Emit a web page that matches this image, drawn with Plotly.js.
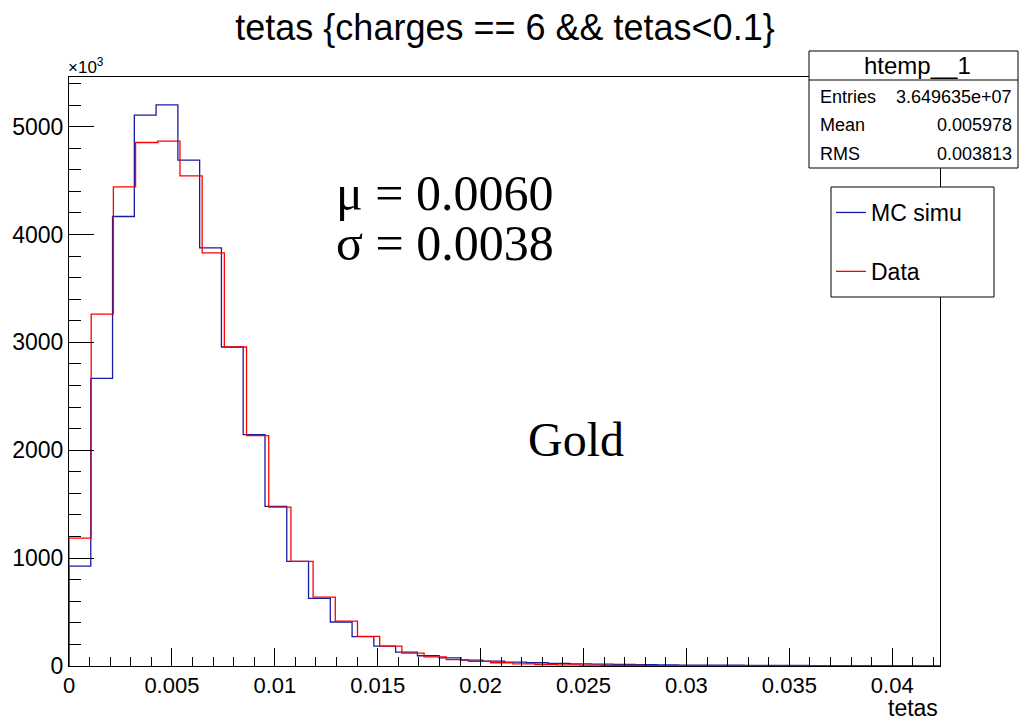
<!DOCTYPE html>
<html><head><meta charset="utf-8">
<script src="https://cdn.plot.ly/plotly-3.0.1.min.js"></script>
<style>html,body{margin:0;padding:0;background:#fff}#chart{width:1020px;height:720px}</style>
</head><body><div id="chart"></div>
<script>
// Entries per bin, in units of 10^3
const mcCounts = [926, 2667, 4167, 5107, 5202, 4689, 3876, 2957, 2145, 1480,
  969, 626, 408, 272, 184, 128, 95, 76, 54, 45,
  35, 30, 25, 20, 17, 14, 12, 10, 9, 8,
  7, 6, 5, 5, 4, 4, 3, 3, 3, 2];
const dataCounts = [1186, 3261, 4442, 4853, 4866, 4544, 3829, 2957, 2135, 1473,
  969, 638, 416, 274, 184, 119, 85, 60, 42, 30,
  20, 14, 10, 8, 6, 5, 4, 3, 3, 2,
  2, 2, 1, 1, 1, 1, 1, 1, 0, 0];
const mcRange = [0, 0.04232];
const dataRange = [0, 0.04313];
const seriesNames = ['MC simu', 'Data'];
const statsTitle = 'htemp__1';
const statsLabels = ['Entries', 'Mean', 'RMS'];
const statsValues = ['3.649635e+07', '0.005978', '0.003813'];
const fitLabels = ['\u03bc = 0.0060', '\u03c3 = 0.0038'];
const sampleLabel = 'Gold';
const titleText = 'tetas {charges == 6 && tetas<0.1}';
const xTitle = 'tetas';
const yMultiplier = '\u00d710<sup>3</sup>';

function stepTrace(counts, range) {
  const w = (range[1] - range[0]) / counts.length;
  const x = [range[0]], y = [0];
  counts.forEach((c, i) => { x.push(range[0] + i * w); y.push(c); });
  x.push(range[1]); y.push(0);
  return {x, y};
}

const W = 1020, H = 720, L = 69, R = 80, T = 77, B = 54;
const pw = W - L - R, ph = H - T - B;
const px = v => (v - L) / pw, py = v => (H - B - v) / ph;
const SANS = 'Liberation Sans, Arial, sans-serif';
const SERIF = 'Liberation Serif, Times New Roman, serif';

const mc = stepTrace(mcCounts, mcRange);
const da = stepTrace(dataCounts, dataRange);

const traces = [
  {type: 'scatter', mode: 'lines', x: mc.x, y: mc.y, name: seriesNames[0], legendgroup: 'a',
   line: {shape: 'hv', color: '#1a1aa8', width: 1.3}, hoverinfo: 'skip'},
  {type: 'scatter', mode: 'lines', x: da.x, y: da.y, name: seriesNames[1], legendgroup: 'b',
   line: {shape: 'hv', color: '#ff0000', width: 1.3}, hoverinfo: 'skip'}
];

const annotations = [
  {text: yMultiplier, xref: 'paper', yref: 'paper', x: px(66), y: py(66), xanchor: 'left', yanchor: 'middle',
   showarrow: false, font: {family: SANS, size: 17, color: '#000'}},
  {text: xTitle, xref: 'paper', yref: 'paper', x: px(940), y: py(708), xanchor: 'right', yanchor: 'middle',
   showarrow: false, font: {family: SANS, size: 23, color: '#000'}},
  {text: fitLabels[0], xref: 'paper', yref: 'paper', x: px(334), y: py(193), xanchor: 'left', yanchor: 'middle',
   showarrow: false, font: {family: SERIF, size: 50, color: '#000'}},
  {text: fitLabels[1], xref: 'paper', yref: 'paper', x: px(334), y: py(243), xanchor: 'left', yanchor: 'middle',
   showarrow: false, font: {family: SERIF, size: 50, color: '#000'}},
  {text: sampleLabel, xref: 'paper', yref: 'paper', x: px(576), y: py(440), xanchor: 'center', yanchor: 'middle',
   showarrow: false, font: {family: SERIF, size: 48, color: '#000'}},
  {text: statsTitle, xref: 'paper', yref: 'paper', x: px(917), y: py(65), xanchor: 'center', yanchor: 'middle',
   showarrow: false, font: {family: SANS, size: 24, color: '#000'}}
];
const rowY = [97, 125, 154];
statsLabels.forEach((lab, i) => {
  annotations.push({text: lab, xref: 'paper', yref: 'paper', x: px(818), y: py(rowY[i]), xanchor: 'left', yanchor: 'middle',
    showarrow: false, font: {family: SANS, size: 18, color: '#000'}});
  annotations.push({text: statsValues[i], xref: 'paper', yref: 'paper', x: px(1014), y: py(rowY[i]), xanchor: 'right', yanchor: 'middle',
    showarrow: false, font: {family: SANS, size: 18, color: '#000'}});
});

const shapes = [
  {type: 'rect', xref: 'paper', yref: 'paper', x0: px(809), x1: px(1018), y0: py(168), y1: py(51),
   fillcolor: '#fff', line: {color: '#000', width: 1}, layer: 'above'},
  {type: 'line', xref: 'paper', yref: 'paper', x0: px(809), x1: px(1018), y0: py(80), y1: py(80),
   line: {color: '#000', width: 1}, layer: 'above'},
  {type: 'rect', xref: 'paper', yref: 'paper', x0: px(831), x1: px(994), y0: py(297), y1: py(187),
   fillcolor: '#fff', line: {color: '#000', width: 1}, layer: 'above'}
];

const layout = {
  width: W, height: H,
  margin: {l: L, r: R, t: T, b: B, pad: 0},
  paper_bgcolor: '#fff', plot_bgcolor: '#fff',
  title: {text: titleText, xref: 'container', yref: 'container', x: 505 / W, y: 1 - 27 / H,
          xanchor: 'center', yanchor: 'middle', font: {family: SANS, size: 36, color: '#000'}},
  showlegend: true,
  legend: {x: px(831), y: py(191), xanchor: 'left', yanchor: 'top', bgcolor: 'rgba(0,0,0,0)',
           borderwidth: 0, font: {family: SANS, size: 23, color: '#000'}, traceorder: 'grouped',
           tracegroupgap: 26, itemclick: false},
  xaxis: {range: [0, 0.04232], tick0: 0, dtick: 0.005, ticks: 'inside', ticklen: 18, tickwidth: 1,
          tickcolor: '#000', showline: true, linecolor: '#000', linewidth: 1, mirror: true,
          showgrid: false, zeroline: false, tickfont: {family: SANS, size: 22, color: '#000'},
          minor: {dtick: 0.001, ticks: 'inside', ticklen: 9, tickwidth: 1, tickcolor: '#000', showgrid: false}},
  yaxis: {range: [0, 5460], tick0: 0, dtick: 1000, ticks: 'inside', ticklen: 25, tickwidth: 1,
          tickcolor: '#000', showline: true, linecolor: '#000', linewidth: 1, mirror: true,
          showgrid: false, zeroline: false, tickformat: 'd', tickfont: {family: SANS, size: 23, color: '#000'},
          minor: {dtick: 200, ticks: 'inside', ticklen: 12, tickwidth: 1, tickcolor: '#000', showgrid: false}},
  annotations, shapes
};

Plotly.newPlot('chart', traces, layout, {displayModeBar: false, staticPlot: true});
</script>
</body></html>
